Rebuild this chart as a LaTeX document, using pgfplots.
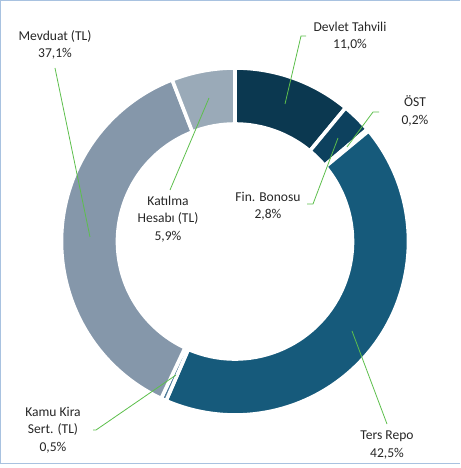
\documentclass[border=0pt]{standalone}
\usepackage{pgfplots}
\pgfplotsset{compat=1.18}
\usepackage{pgfplotstable}
\usepackage{fontspec}
\setmainfont{Carlito}

\definecolor{pie0}{HTML}{0B3850}
\definecolor{pie1}{HTML}{0D415E}
\definecolor{pie2}{HTML}{104B69}
\definecolor{pie3}{HTML}{165A7B}
\definecolor{pie4}{HTML}{4E7A98}
\definecolor{pie5}{HTML}{8597AA}
\definecolor{pie6}{HTML}{9AAAB8}
\definecolor{leader}{HTML}{5DBF4C}
\definecolor{frame}{HTML}{A8C2E0}

\tikzset{lbl/.style={font=\fontsize{13.6}{17.5}\selectfont, text=black!85, align=center, inner sep=0pt},
         ldr/.style={leader, line width=0.8bp}}

% share in percent, clockwise from 12 o'clock
\pgfplotstableread{
name value
DT 11.0
FB 2.8
OST 0.2
TR 42.5
KK 0.5
MV 37.1
KH 5.9
}\piedata

\def\cx{235}\def\cy{226.5}\def\Ro{173.5}\def\Ri{117.5}

\begin{document}
\begin{tikzpicture}
\begin{axis}[
    hide axis,
    scale only axis,
    x=1bp, y=1bp,
    xmin=0, xmax=460,
    ymin=0, ymax=468,
    clip=false,
]
\path (axis cs:0,0) rectangle (axis cs:460,468);
\def\cum{0}
\pgfplotsforeachungrouped \i in {0,...,6}{
  \pgfplotstablegetelem{\i}{value}\of\piedata
  \pgfmathsetmacro\a{90-\cum*3.6}
  \pgfmathsetmacro\cum{\cum+\pgfplotsretval}
  \pgfmathsetmacro\b{90-\cum*3.6}
  \pgfmathsetmacro\xa{\cx+\Ro*cos(\a)}
  \pgfmathsetmacro\ya{\cy+\Ro*sin(\a)}
  \pgfmathsetmacro\xb{\cx+\Ri*cos(\b)}
  \pgfmathsetmacro\yb{\cy+\Ri*sin(\b)}
  \edef\temp{\noexpand\filldraw[fill=pie\i, draw=white, line width=3.6bp, line join=miter]
    (axis cs:\xa,\ya) arc[start angle=\a, end angle=\b, radius=\Ro bp]
    -- (axis cs:\xb,\yb) arc[start angle=\b, end angle=\a, radius=\Ri bp] -- cycle;}
  \temp
}

% leader lines
\draw[ldr] (axis cs:285,364) -- (axis cs:301,432) -- (axis cs:306,432);
\draw[ldr] (axis cs:347,321) -- (axis cs:373,356) -- (axis cs:379,356);
\draw[ldr] (axis cs:338,330) -- (axis cs:313,264) -- (axis cs:307,264);
\draw[ldr] (axis cs:352,137) -- (axis cs:387,44);
\draw[ldr] (axis cs:176,93) -- (axis cs:96,38) -- (axis cs:93,38);
\draw[ldr] (axis cs:90,231) -- (axis cs:55,400);
\draw[ldr] (axis cs:209,370) -- (axis cs:170,278);

% labels
\node[lbl] at (axis cs:55,423) {Mevduat (TL)\\37,1\%};
\node[lbl] at (axis cs:350,432) {Devlet Tahvili\\11,0\%};
\node[lbl] at (axis cs:415,357) {ÖST\\0,2\%};
\node[lbl] at (axis cs:268,262) {Fin. Bonosu\\2,8\%};
\node[lbl] at (axis cs:168,249) {Katılma\\Hesabı (TL)\\5,9\%};
\node[lbl] at (axis cs:387,23) {Ters Repo\\42,5\%};
\node[lbl] at (axis cs:53,38) {Kamu Kira\\Sert. (TL)\\0,5\%};

% chart frame
\draw[frame, line width=1.4bp] (axis cs:460,467.3) -- (axis cs:0.7,467.3) -- (axis cs:0.7,4.3) -- (axis cs:460,4.3);
\end{axis}
\end{tikzpicture}
\end{document}
